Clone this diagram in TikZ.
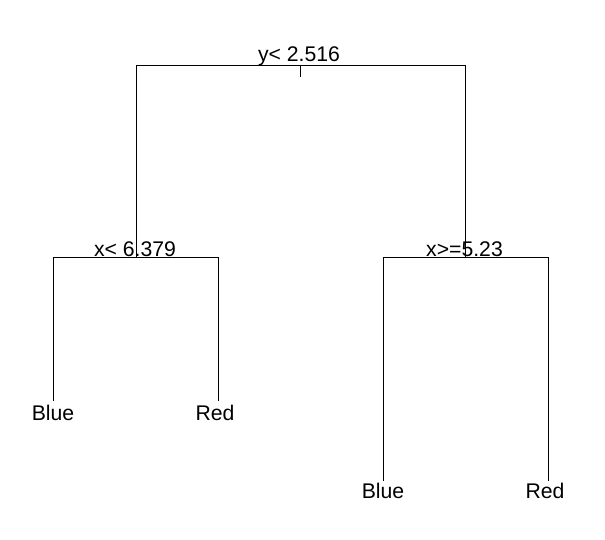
\documentclass[tikz,border=0pt]{standalone}
\usepackage{fontspec}
\setmainfont{Liberation Sans}
\begin{document}
\begin{tikzpicture}[x=1pt,y=-1pt,
  lbl/.style={anchor=base,inner sep=0pt,font=\fontsize{21.2}{25}\selectfont},
  edge/.style={line width=1pt,line cap=rect}]
\useasboundingbox (0,0) rectangle (605,540);
% joints
\coordinate (rl) at (136,65.5);
\coordinate (rr) at (465,65.5);
\coordinate (rt) at (300,65.5);
\coordinate (rtb) at (300,76.5);
\coordinate (L) at (136,257.5);
\coordinate (Ll) at (53,257.5);
\coordinate (Lr) at (218,257.5);
\coordinate (R) at (465,257.5);
\coordinate (Rl) at (383,257.5);
\coordinate (Rr) at (548,257.5);
\coordinate (LLb) at (53,400);
\coordinate (LRb) at (218,400);
\coordinate (RLb) at (383,480);
\coordinate (RRb) at (548,480);
% tree
\draw[edge] (rl) -- (rr);
\draw[edge] (rt) -- (rtb);
\draw[edge] (rl) -- (L);
\draw[edge] (rr) -- (R);
\draw[edge] (Ll) -- (Lr);
\draw[edge] (Rl) -- (Rr);
\draw[edge] (Ll) -- (LLb);
\draw[edge] (Lr) -- (LRb);
\draw[edge] (Rl) -- (RLb);
\draw[edge] (Rr) -- (RRb);
% labels
\node[lbl] (root) at (299,61.5) {y< 2.516};
\node[lbl] (left) at (135,256.5) {x< 6.379};
\node[lbl] (right) at (464.5,256.5) {x>=5.23};
\node[lbl] (b1) at (53,420) {Blue};
\node[lbl] (r1) at (215,420) {Red};
\node[lbl] (b2) at (383,498.5) {Blue};
\node[lbl] (r2) at (545,498.5) {Red};
\end{tikzpicture}
\end{document}
